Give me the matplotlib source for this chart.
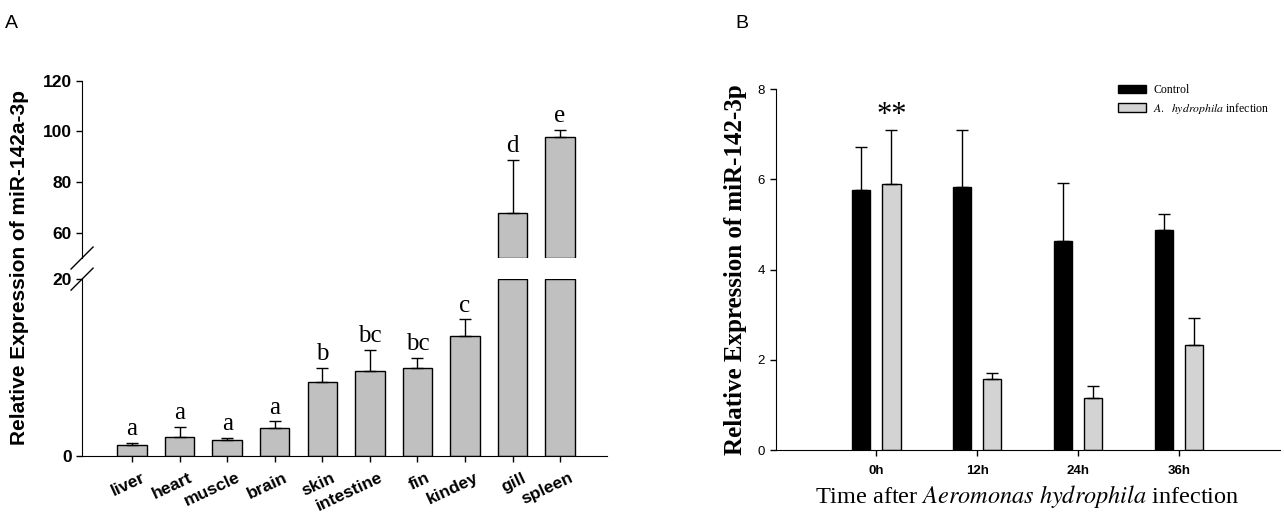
import numpy as np
import matplotlib
matplotlib.use("Agg")
import matplotlib.pyplot as plt
from matplotlib.lines import Line2D
from matplotlib.transforms import ScaledTranslation

plt.rcParams['mathtext.fontset'] = 'stix'

# Panel A: miR-142a-3p across tissues
tissues = ['liver', 'heart', 'muscle', 'brain', 'skin', 'intestine', 'fin', 'kindey', 'gill', 'spleen']
tissue_mean = np.array([1.24, 2.18, 1.73, 3.09, 8.36, 9.6, 9.94, 13.56, 67.7, 97.8])
tissue_err = np.array([0.2, 1.06, 0.27, 0.8, 1.58, 2.38, 1.16, 1.88, 21.2, 2.8])
tissue_letters = ['a', 'a', 'a', 'a', 'b', 'bc', 'bc', 'c', 'd', 'e']

# Panel B: miR-142-3p after infection
times = ['0h', '12h', '24h', '36h']
control_mean = np.array([5.77, 5.84, 4.63, 4.87])
control_err = np.array([0.94, 1.26, 1.29, 0.37])
infect_mean = np.array([5.9, 1.58, 1.16, 2.34])
infect_err = np.array([1.2, 0.12, 0.26, 0.58])

LOW_TOP = 20
HIGH_BOTTOM = 50

sans = 'Liberation Sans'
serif = 'Liberation Serif'

fig = plt.figure(figsize=(12.84, 5.15), dpi=100)

# ---------------- Panel A (broken axis) ----------------
ax_lo = fig.add_axes([0.0639, 0.115, 0.409, 0.343])
ax_hi = fig.add_axes([0.0639, 0.499, 0.409, 0.344])

x = np.arange(len(tissues))
bar_kw = dict(width=0.62, color='#c0c0c0', edgecolor='black', linewidth=1.0)
ax_lo.bar(x, np.minimum(tissue_mean, LOW_TOP), **bar_kw)
high = tissue_mean > LOW_TOP
ax_hi.bar(x[high], tissue_mean[high] - HIGH_BOTTOM, bottom=HIGH_BOTTOM, **bar_kw)

low = ~high
ax_lo.errorbar(x[low], tissue_mean[low], yerr=[np.zeros(low.sum()), tissue_err[low]],
               fmt='none', ecolor='black', elinewidth=1.0, capsize=4, capthick=1.0)
ax_hi.errorbar(x[high], tissue_mean[high], yerr=[np.zeros(high.sum()), tissue_err[high]],
               fmt='none', ecolor='black', elinewidth=1.0, capsize=4, capthick=1.0)

for i, lt in enumerate(tissue_letters):
    ax = ax_hi if high[i] else ax_lo
    ax.annotate(lt, (x[i], tissue_mean[i] + tissue_err[i]), xytext=(0, 2),
                textcoords='offset points', ha='center', va='bottom',
                family=serif, fontsize=18)

for ax in (ax_lo, ax_hi):
    ax.set_xlim(-1.05, 9.99)
    ax.spines['top'].set_visible(False)
    ax.spines['right'].set_visible(False)
    ax.tick_params(direction='out', length=4, width=1.0)
    ax.patch.set_alpha(0)

ax_lo.set_ylim(0, LOW_TOP)
ax_lo.set_yticks([0, 20])
ax_hi.set_ylim(HIGH_BOTTOM, 120)
ax_hi.set_yticks([60, 80, 100, 120])
ax_hi.spines['bottom'].set_visible(False)
ax_hi.set_xticks([])

for ax in (ax_lo, ax_hi):
    for lbl in ax.get_yticklabels():
        lbl.set_fontfamily(sans)
        lbl.set_fontweight('bold')
        lbl.set_fontsize(12.5)

ax_lo.set_xticks(x)
ax_lo.set_xticklabels(tissues, rotation=25, ha='right', va='top', rotation_mode='anchor',
                      family=sans, fontweight='bold', fontsize=12.5)
shift = ScaledTranslation(9 / 100, -4 / 100, fig.dpi_scale_trans)
for lbl in ax_lo.get_xticklabels():
    lbl.set_transform(lbl.get_transform() + shift)

fig.text(0.015, 0.48, 'Relative Expression of miR-142a-3p', rotation=90,
         ha='center', va='center', family=sans, fontweight='bold', fontsize=15)

# break marks on the y axis
x0 = 0.0639
dx, dy = 11 / 1284, 11 / 515
for yc in (0.499, 0.458):
    fig.add_artist(Line2D([x0 - dx, x0 + dx], [yc - dy, yc + dy], color='black', lw=1.0))

fig.text(0.004, 0.955, 'A', family=sans, fontsize=14, ha='left', va='center')

# ---------------- Panel B ----------------
axB = fig.add_axes([0.604, 0.126, 0.3925, 0.701])
xb = np.arange(len(times))
axB.bar(xb - 0.15, control_mean, 0.18, color='black', edgecolor='black', linewidth=1.0,
        label='Control')
axB.bar(xb + 0.15, infect_mean, 0.18, color='#d3d3d3', edgecolor='black', linewidth=1.0,
        label=r'$\mathit{A.}\ \ \mathit{hydrophila}$ infection')
axB.errorbar(xb - 0.15, control_mean, yerr=[np.zeros(4), control_err], fmt='none',
             ecolor='black', elinewidth=1.0, capsize=4, capthick=1.0)
axB.errorbar(xb + 0.15, infect_mean, yerr=[np.zeros(4), infect_err], fmt='none',
             ecolor='black', elinewidth=1.0, capsize=4, capthick=1.0)

axB.annotate('**', (xb[0] + 0.15, infect_mean[0] + infect_err[0]), xytext=(0, 0),
             textcoords='offset points', ha='center', va='bottom', family=serif, fontsize=22)

axB.set_xlim(-1, 4)
axB.set_ylim(0, 8)
axB.set_yticks([0, 2, 4, 6, 8])
axB.spines['top'].set_visible(False)
axB.spines['right'].set_visible(False)
axB.tick_params(direction='out', length=4, width=1.0)
axB.set_xticks(xb)
axB.set_xticklabels(times, family=sans, fontweight='bold', fontsize=9.5)
axB.tick_params(axis='x', pad=7)
for lbl in axB.get_yticklabels():
    lbl.set_fontfamily(sans)
    lbl.set_fontsize(9.5)
axB.set_ylabel('Relative Expression of miR-142-3p', family=serif, fontweight='bold',
               fontsize=18, labelpad=8)
axB.set_xlabel(r'Time after $\mathit{Aeromonas\ hydrophila}$ infection', family=serif,
               fontsize=17.5, labelpad=4)

leg = axB.legend(loc='upper left', bbox_to_anchor=(1118 / 1284, 1 - 84 / 515),
                 bbox_transform=fig.transFigure, frameon=False,
                 prop={'family': serif, 'size': 8.5}, handlelength=2.4, handleheight=0.7,
                 labelspacing=0.4, handletextpad=0.6, borderaxespad=0, borderpad=0)

fig.text(0.573, 0.955, 'B', family=sans, fontsize=14, ha='left', va='center')

fig.savefig('out.png', dpi=100)
